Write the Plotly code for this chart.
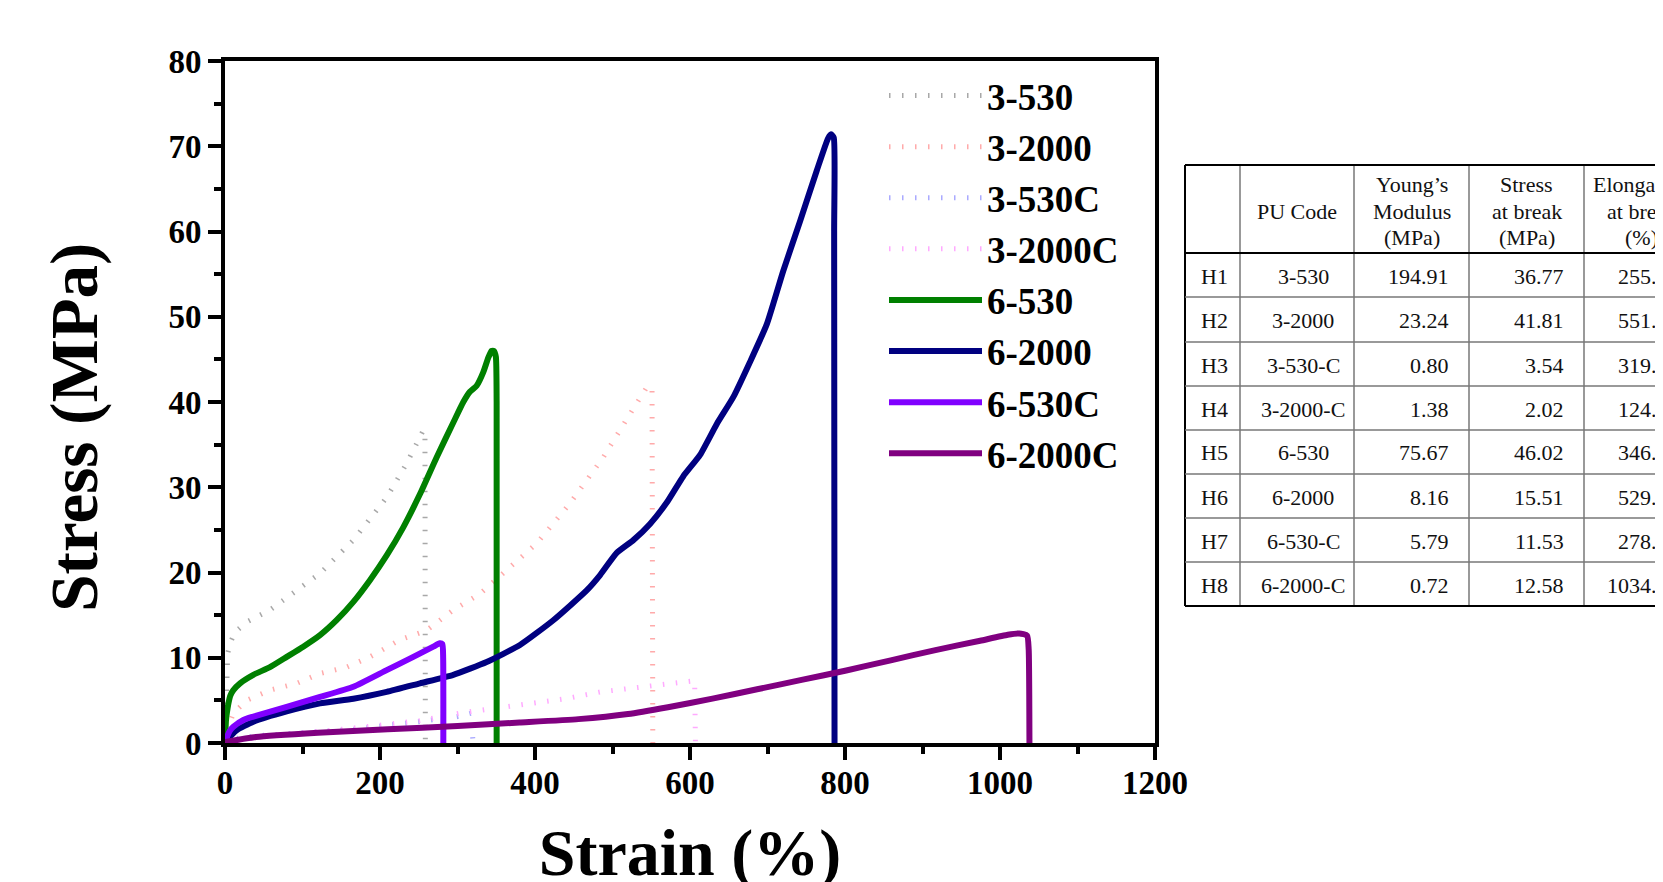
import plotly.graph_objects as go

# ---------------- data ----------------
strain_3_530 = [0, 1, 2, 3.5, 6.5, 12.9, 28, 58, 92.5, 122.6, 165.6, 208.6, 234.4, 250, 256, 258, 258.5]
stress_3_530 = [0, 4, 8, 10.5, 11.7, 13.0, 14.2, 15.6, 17.9, 19.9, 23.8, 28.8, 32.8, 35.5, 36.7, 36.5, 0]

strain_3_2000 = [0, 3, 10.8, 28, 58, 92.5, 122.6, 157, 187, 225.8, 260, 294.6, 329, 359, 402, 445, 488, 522.6, 544, 551, 552]
stress_3_2000 = [0, 1.5, 3.5, 5.0, 6.2, 7.0, 8.15, 8.9, 10.1, 12.1, 13.2, 15.6, 17.5, 19.9, 23.4, 28.1, 33.5, 38.6, 41.7, 41.8, 0]

strain_3_530C = [0, 10, 50, 100, 165, 250, 300, 318, 320]
stress_3_530C = [0, 0.5, 0.9, 1.2, 1.6, 2.5, 3.1, 3.5, 0]

strain_3_2000C = [0, 50, 150, 250, 303, 380, 440, 485, 542, 570, 606, 607]
stress_3_2000C = [0, 0.8, 1.6, 2.6, 3.5, 4.4, 5.2, 6.0, 6.6, 6.9, 7.3, 0]

strain_6_530 = [0, 1.3, 2.5, 4.3, 7, 10.8, 19.4, 36.6, 58, 79.6, 101, 122.6, 144, 165.6, 187, 208.6, 230,
                251.6, 273, 294.6, 307.5, 316, 324.7, 333.3, 339.7, 344, 346.9, 349.5, 350.5, 350.5]
stress_6_530 = [0, 2.7, 3.6, 4.6, 5.6, 6.2, 7.0, 8.0, 8.9, 10.1, 11.3, 12.65, 14.4, 16.55, 19.1, 22.0, 25.3,
                29.2, 33.5, 37.6, 40.0, 41.2, 41.9, 43.5, 45.2, 46.0, 46.0, 45.3, 40, 0]

strain_6_2000 = [0, 5, 15, 36.6, 79.6, 122.6, 165.6, 208.6, 251.6, 294.6, 337.6, 380.6, 423.6, 466.7, 484,
                 505.4, 526.9, 548.4, 570, 591.4, 613, 634.4, 656, 677.4, 699, 720.4, 742, 763.4, 778, 782,
                 785.5, 786, 786.5]
stress_6_2000 = [0, 0.6, 1.5, 2.5, 3.7, 4.65, 5.2, 6.0, 7.0, 8.0, 9.5, 11.5, 14.4, 17.9, 19.7,
                 22.3, 23.8, 25.7, 28.2, 31.3, 33.8, 37.4, 40.6, 44.7, 49.1, 55.4, 61.2, 67.1, 70.9, 71.4,
                 71.0, 60, 0]

strain_6_530C = [0, 3, 6, 10.8, 23.7, 36.6, 79.6, 122.6, 165.6, 208.6, 243, 268.8, 277, 280.5, 281.5, 281.7]
stress_6_530C = [0, 0.8, 1.4, 1.9, 2.7, 3.1, 4.25, 5.4, 6.6, 8.55, 10.1, 11.3, 11.7, 11.6, 10, 0]

strain_6_2000C = [0, 40, 120, 210, 300, 380, 456, 520, 571.5, 629, 686.6, 744, 801.6, 859, 916.7, 974.4,
                  1010, 1025, 1035, 1037, 1038]
stress_6_2000C = [0.1, 0.7, 1.2, 1.6, 2.0, 2.4, 2.8, 3.4, 4.2, 5.2, 6.3, 7.4, 8.5, 9.7, 10.9, 12.0,
                  12.7, 12.85, 12.6, 11, 0]

series_names = ["3-530", "3-2000", "3-530C", "3-2000C", "6-530", "6-2000", "6-530C", "6-2000C"]
series_colors = ["#a8a8a8", "#ffaaaa", "#aaaaff", "#ffaaff", "#008000", "#000080", "#8000ff", "#800080"]

x_ticks = [0, 200, 400, 600, 800, 1000, 1200]
y_ticks = [0, 10, 20, 30, 40, 50, 60, 70, 80]

# table
table_header = [[], ["PU Code"], ["Young’s", "Modulus", "(MPa)"], ["Stress", "at break", "(MPa)"],
                ["Elongation", "at break", "(%)"]]
table_ids = ["H1", "H2", "H3", "H4", "H5", "H6", "H7", "H8"]
table_codes = ["3-530", "3-2000", "3-530-C", "3-2000-C", "6-530", "6-2000", "6-530-C", "6-2000-C"]
table_modulus = ["194.91", "23.24", "0.80", "1.38", "75.67", "8.16", "5.79", "0.72"]
table_stress = ["36.77", "41.81", "3.54", "2.02", "46.02", "15.51", "11.53", "12.58"]
table_elong = ["255.62", "551.15", "319.85", "124.85", "346.93", "529.47", "278.61", "1034.85"]

# ---------------- figure ----------------
OFF = 8  # page body margin
W, H = 1663 - OFF, 882
# plot area in page pixels
L, R, T, B = 225, 1155, 61, 743


def fx(p):
    return (p - L) / (R - L)


def fy(p):
    return (B - p) / (B - T)


SERIF = "Liberation Serif"
fig = go.Figure()

xs_all = [strain_3_530, strain_3_2000, strain_3_530C, strain_3_2000C,
          strain_6_530, strain_6_2000, strain_6_530C, strain_6_2000C]
ys_all = [stress_3_530, stress_3_2000, stress_3_530C, stress_3_2000C,
          stress_6_530, stress_6_2000, stress_6_530C, stress_6_2000C]
for i, (nm, c, xs, ys) in enumerate(zip(series_names, series_colors, xs_all, ys_all)):
    if i < 4:
        line = dict(color=c, width=5, dash="1.5px,11.5px")
    else:
        line = dict(color=c, width=6, shape="spline", smoothing=0.5)
    fig.add_trace(go.Scatter(x=xs, y=ys, mode="lines", name=nm, line=line))

axis_common = dict(showline=True, linewidth=4, linecolor="black", mirror=True,
                   ticks="outside", ticklen=13, tickwidth=4, tickcolor="black",
                   showgrid=False, zeroline=False,
                   tickfont=dict(family=SERIF, size=33, color="black", weight="bold"))

fig.update_xaxes(range=[0, 1200], tickvals=x_ticks, ticktext=[str(v) for v in x_ticks],
                 ticklabelstandoff=-6,
                 minor=dict(dtick=100, tick0=0, ticks="outside", ticklen=7, tickwidth=4, tickcolor="black"),
                 title=dict(text="Strain (%)", standoff=40,
                            font=dict(family=SERIF, size=66, color="black", weight="bold")),
                 **axis_common)
fig.update_yaxes(range=[0, 80], tickvals=y_ticks, ticktext=[str(v) for v in y_ticks],
                 minor=dict(dtick=5, tick0=0, ticks="outside", ticklen=7, tickwidth=4, tickcolor="black"),
                 title=dict(text="Stress (MPa)&nbsp;&nbsp;&nbsp;", standoff=50,
                            font=dict(family=SERIF, size=67, color="black", weight="bold")),
                 **axis_common)

fig.update_layout(
    width=W, height=H,
    margin=dict(l=L - OFF, r=W - (R - OFF), t=T - OFF, b=H - (B - OFF), autoexpand=False),
    paper_bgcolor="white", plot_bgcolor="white",
    showlegend=True,
    legend=dict(x=fx(884), y=fy(65), xanchor="left", yanchor="top",
                bgcolor="rgba(0,0,0,0)", borderwidth=0, itemwidth=93,
                font=dict(family=SERIF, size=37, color="black", weight="bold"),
                tracegroupgap=0),
)

# ---------------- table (shapes + annotations) ----------------
col_edges = [1185, 1240, 1354, 1469, 1584, 1699]
row_edges = [165, 253, 297, 342, 386, 430, 474, 518, 562, 606]
shapes = []
grid = "#777777"
for k, xe in enumerate(col_edges):
    outer = k == 0
    shapes.append(dict(type="line", xref="paper", yref="paper", x0=fx(xe), x1=fx(xe),
                       y0=fy(row_edges[0]), y1=fy(row_edges[-1]),
                       line=dict(color="black" if outer else grid, width=2 if outer else 1.5)))
for k, ye in enumerate(row_edges):
    strong = k in (0, 1, len(row_edges) - 1)
    shapes.append(dict(type="line", xref="paper", yref="paper", x0=fx(col_edges[0]), x1=fx(col_edges[-1]),
                       y0=fy(ye), y1=fy(ye),
                       line=dict(color="black" if strong else grid, width=2 if strong else 1.5)))
fig.update_layout(shapes=shapes)

tfont = dict(family=SERIF, size=22, color="#111111")
anns = []
header_line_y = {1: [211.5], 3: [185, 211.5, 237.5]}
for j, lines in enumerate(table_header):
    if not lines:
        continue
    cx = (col_edges[j] + col_edges[j + 1]) / 2
    for txt, ly in zip(lines, header_line_y[len(lines)]):
        anns.append(dict(x=fx(cx), y=fy(ly), xref="paper", yref="paper", text=txt, showarrow=False,
                         xanchor="center", yanchor="middle", align="center", font=tfont))
for i in range(len(table_ids)):
    cy = (row_edges[i + 1] + row_edges[i + 2]) / 2 + 1
    anns.append(dict(x=fx(col_edges[0] + 14), y=fy(cy), xref="paper", yref="paper", text=table_ids[i],
                     showarrow=False, xanchor="left", yanchor="middle", font=tfont))
    anns.append(dict(x=fx((col_edges[1] + col_edges[2]) / 2 + 6), y=fy(cy), xref="paper", yref="paper",
                     text=table_codes[i], showarrow=False, xanchor="center", yanchor="middle", font=tfont))
    for j, arr in ((2, table_modulus), (3, table_stress), (4, table_elong)):
        anns.append(dict(x=fx(col_edges[j + 1] - 18.5), y=fy(cy), xref="paper", yref="paper", text=arr[i],
                         showarrow=False, xanchor="right", yanchor="middle", font=tfont))
fig.update_layout(annotations=anns)

fig.write_html("out.html")
